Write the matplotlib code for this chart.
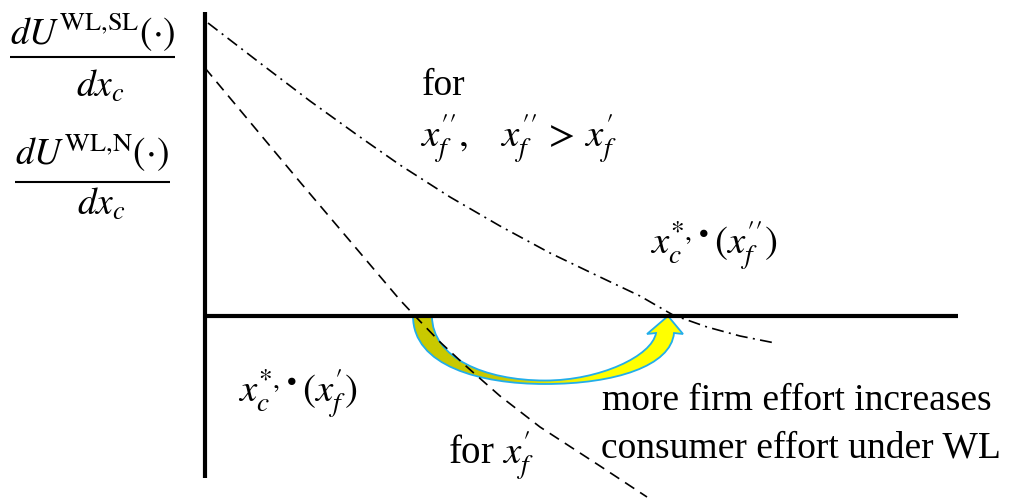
import numpy as np
import matplotlib
matplotlib.use("Agg")
import matplotlib.pyplot as plt
from matplotlib.path import Path
from matplotlib.patches import PathPatch
from matplotlib.colors import LinearSegmentedColormap

plt.rcParams['font.family'] = ['Liberation Serif', 'DejaVu Serif']
plt.rcParams['mathtext.fontset'] = 'stix'

# ---- data (diagram units, origin at axis crossing) ----
# dash-dot curve: dU^{WL,SL}/dx_c, for x''_f
sl_x = [0.03, 0.55, 1.05, 1.55, 1.95, 2.45, 2.95, 3.45, 3.95, 4.35, 4.68, 5.02, 5.35, 5.70]
sl_y = [2.93, 2.53, 2.15, 1.79, 1.51, 1.19, 0.90, 0.63, 0.39, 0.20, 0.01, -0.11, -0.20, -0.27]
# dashed curve: dU^{WL,N}/dx_c, for x'_f
n_x = [0.00, 0.45, 0.95, 1.45, 1.95, 2.10, 2.35, 2.62, 2.95, 3.35, 3.95, 4.42]
n_y = [2.48, 1.94, 1.34, 0.75, 0.16, 0.00, -0.26, -0.51, -0.80, -1.11, -1.50, -1.81]
# axis extents
yaxis_range = [-1.62, 3.04]
xaxis_range = [0.0, 7.53]
# curved arrow: from x_c*(x'_f) to x_c*(x''_f)
arrow_from = 2.08
arrow_to = 4.63

fig = plt.figure(figsize=(10.11, 5.01), dpi=100)
ax = fig.add_axes([0, 0, 1, 1])
ax.set_xlim(-2.05, 8.06)
ax.set_ylim(-1.85, 3.16)
ax.axis('off')

# axes
ax.plot([0, 0], yaxis_range, color='black', lw=3.0, solid_capstyle='butt', zorder=3)
ax.plot(xaxis_range, [0, 0], color='black', lw=3.0, solid_capstyle='butt', zorder=3)

# curves
ax.plot(sl_x, sl_y, color='black', lw=1.2, dashes=(7.2, 3.2, 1.2, 3.2), zorder=4)
ax.plot(n_x, n_y, color='black', lw=1.2, dashes=(6.6, 4.2), zorder=4)


def curved_arrow(x0, x1, depth=0.68):
    """Ribbon-like U arrow from tail at x0 to tip at x1 on the horizontal axis."""
    L = x1 - x0
    xm = x0 + 0.518 * L
    tw = 0.19          # tail width
    hb = -0.18         # head base level
    verts = [
        (x0, 0.0),
        (x0, -0.50), (x0 + 0.263 * L, -depth), (xm, -depth),
        (x0 + 0.792 * L, -depth), (x1 + 0.03, -0.50), (x1 + 0.06, hb + 0.01),
        (x1 + 0.15, hb),
        (x1, 0.0),
        (x1 - 0.21, hb),
        (x1 - 0.12, hb + 0.01),
        (x1 - 0.16, -0.40), (x0 + 0.733 * L, -depth + 0.035), (xm, -depth + 0.035),
        (x0 + 0.282 * L, -depth + 0.035), (x0 + tw, -0.42), (x0 + tw, 0.0),
        (x0, 0.0),
    ]
    codes = ([Path.MOVETO] + [Path.CURVE4] * 6 + [Path.LINETO] * 4 +
             [Path.CURVE4] * 6 + [Path.CLOSEPOLY])
    return Path(verts, codes)


apath = curved_arrow(arrow_from, arrow_to)
edge = PathPatch(apath, facecolor='none', edgecolor='#22aeea', lw=1.3, zorder=2.5)
fillp = PathPatch(apath, facecolor='none', edgecolor='none', zorder=2)
ax.add_patch(fillp)
cmap = LinearSegmentedColormap.from_list('oy', ['#c9c900', '#c9c900', '#ffff00', '#ffff00'])
grad = np.linspace(0, 1, 256).reshape(1, -1)
im = ax.imshow(grad, cmap=cmap, aspect='auto', zorder=2,
               extent=[arrow_from - 0.05, arrow_to + 0.2, -0.75, 0.02],
               interpolation='bilinear')
im.set_clip_path(fillp)
ax.add_patch(edge)
ax.set_xlim(-2.05, 8.06)
ax.set_ylim(-1.85, 3.16)

# left labels (fractions)
fs_lab = 27
ax.text(-1.95, 2.71, r'$dU^{\mathrm{WL{,}SL}}(\cdot)$', fontsize=fs_lab, ha='left', va='baseline')
ax.plot([-1.95, -0.30], [2.59, 2.59], color='black', lw=1.5, solid_capstyle='butt')
ax.text(-1.05, 2.19, r'$dx_c$', fontsize=fs_lab, ha='center', va='baseline')
ax.text(-1.90, 1.51, r'$dU^{\mathrm{WL{,}N}}(\cdot)$', fontsize=fs_lab, ha='left', va='baseline')
ax.plot([-1.90, -0.35], [1.34, 1.34], color='black', lw=1.5, solid_capstyle='butt')
ax.text(-1.04, 1.01, r'$dx_c$', fontsize=fs_lab, ha='center', va='baseline')

# annotations
fs = 27
fm = 28
ax.text(2.17, 2.21, 'for', fontsize=fs, ha='left', va='baseline')
ax.text(2.15, 1.68, r"$x_f^{\prime\prime},\ \ \ x_f^{\prime\prime}\,>\,x_f^{\prime}$", fontsize=fm,
        ha='left', va='baseline')
ax.text(4.45, 0.61, r"$x_c^{*,\bullet}(x_f^{\prime\prime})$", fontsize=fm, ha='left', va='baseline')
ax.text(0.33, -0.87, r"$x_c^{*,\bullet}(x_f^{\prime})$", fontsize=fm, ha='left', va='baseline')
ax.text(2.43, -1.49, r"for $x_f^{\prime}$", fontsize=fm, ha='left', va='baseline')
ax.text(3.97, -0.94, 'more firm effort increases', fontsize=fs, ha='left', va='baseline')
ax.text(3.96, -1.41, 'consumer effort under WL', fontsize=fs, ha='left', va='baseline')

fig.savefig('out.png', dpi=100)
